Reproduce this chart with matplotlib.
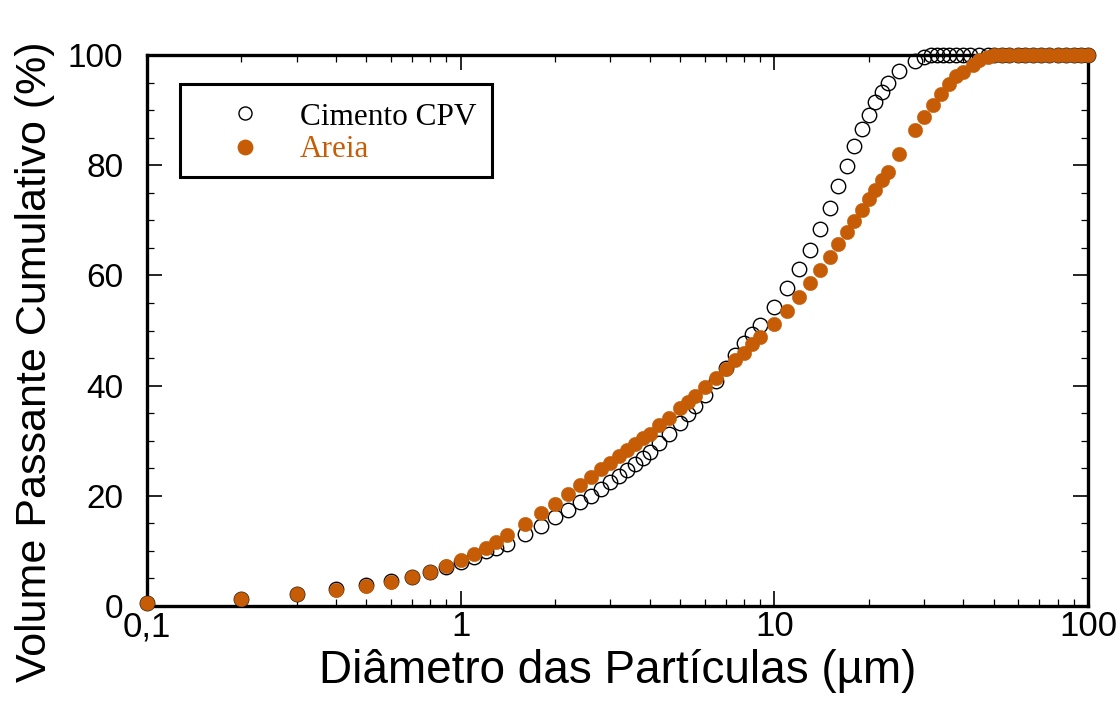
import matplotlib
matplotlib.use("Agg")
import matplotlib.pyplot as plt
from matplotlib.ticker import FixedLocator, LogLocator, NullFormatter, MultipleLocator
from matplotlib.patches import Rectangle

# particle sizes (um) shared by both curves up to 30 um
diam_common = [0.1, 0.2, 0.3, 0.4, 0.5, 0.6, 0.7, 0.8, 0.9, 1.0,
               1.1, 1.2, 1.3, 1.4, 1.6, 1.8, 2.0, 2.2, 2.4, 2.6, 2.8,
               3.0, 3.2, 3.4, 3.6, 3.8, 4.0, 4.3, 4.6, 5.0, 5.3, 5.6,
               6.0, 6.5, 7.0, 7.5, 8.0, 8.5, 9.0, 10, 11, 12, 13, 14,
               15, 16, 17, 18, 19, 20, 21, 22, 23, 25, 28, 30]

cimento_tail_x = [31.5, 33, 34.5, 36, 38, 40, 42, 45, 48, 50, 53, 56, 60,
                  63, 67, 71, 75, 80, 85, 90, 95, 100]
areia_tail_x = [32, 34, 36, 38, 40, 43, 45, 48, 50, 53, 56, 60, 63, 67,
                71, 75, 80, 85, 90, 95, 100]

cimento_y = [0.5, 1.3, 2.2, 3.0, 3.9, 4.5, 5.3, 6.2, 7.0, 7.9,
             8.9, 9.9, 10.6, 11.3, 13.0, 14.6, 16.1, 17.5, 18.9, 20.0, 21.3,
             22.5, 23.6, 24.7, 25.8, 26.8, 27.9, 29.5, 31.2, 33.3, 34.9, 36.3,
             38.3, 40.9, 43.2, 45.6, 47.7, 49.3, 51.0, 54.3, 57.8, 61.2, 64.6, 68.4,
             72.2, 76.2, 79.9, 83.4, 86.5, 89.1, 91.4, 93.2, 95.0, 97.1, 99.0, 99.6]
cimento_tail_y = [100] * 22

areia_y = [0.5, 1.3, 2.2, 2.9, 3.7, 4.3, 5.2, 6.2, 7.3, 8.4,
           9.5, 10.5, 11.7, 12.8, 14.8, 16.8, 18.6, 20.3, 22.0, 23.4, 24.8,
           26.0, 27.2, 28.3, 29.4, 30.4, 31.3, 32.8, 34.2, 35.9, 37.1, 38.1,
           39.7, 41.4, 43.1, 44.6, 46.0, 47.5, 48.8, 51.2, 53.5, 56.0, 58.7, 61.0,
           63.3, 65.7, 67.8, 69.9, 71.9, 73.8, 75.5, 77.3, 78.8, 82.0, 86.3, 88.8]
areia_tail_y = [90.9, 93.0, 94.7, 96.1, 97.0, 98.2, 99.1, 99.7, 100, 100, 100,
                100, 100, 100, 100, 100, 100, 100, 100, 100, 100]

x_ticks = [0.1, 1, 10, 100]
x_ticklabels = ["0,1", "1", "10", "100"]

ORANGE = "#C65D06"

fig = plt.figure(figsize=(11.2, 7.03), dpi=100)
ax = fig.add_axes([147 / 1120, 1 - 606 / 703, 941 / 1120, 551 / 703])

ax.plot(diam_common + cimento_tail_x, cimento_y + cimento_tail_y,
        linestyle="none", marker="o", markersize=10.4, markerfacecolor="none",
        markeredgecolor="black", markeredgewidth=1.0, clip_on=False, zorder=3)
ax.plot(diam_common + areia_tail_x, areia_y + areia_tail_y,
        linestyle="none", marker="o", markersize=10.4, markerfacecolor=ORANGE,
        markeredgecolor=ORANGE, markeredgewidth=0.3, clip_on=False, zorder=4)

ax.set_xscale("log")
ax.set_xlim(0.1, 100)
ax.set_ylim(0, 100)

ax.xaxis.set_major_locator(FixedLocator(x_ticks))
ax.set_xticklabels(x_ticklabels)
ax.xaxis.set_minor_locator(LogLocator(base=10, subs=range(2, 10)))
ax.xaxis.set_minor_formatter(NullFormatter())
ax.yaxis.set_major_locator(MultipleLocator(20))
ax.yaxis.set_minor_locator(MultipleLocator(5))

for s in ax.spines.values():
    s.set_linewidth(2.4)

ax.tick_params(which="both", direction="in", top=True, right=True)
ax.tick_params(which="major", length=10.5, width=1.2)
ax.tick_params(which="minor", length=5, width=0.9)
ax.tick_params(axis="y", which="major", labelsize=24, pad=17)
ax.tick_params(axis="x", which="major", labelsize=25, pad=3)
for lab in ax.get_xticklabels() + ax.get_yticklabels():
    lab.set_family("Liberation Sans")

ax.set_xlabel("Diâmetro das Partículas (µm)", fontsize=33,
              family="Liberation Sans", labelpad=4)
fig.text(35 / 1120, 1 - 362 / 703, "Volume Passante Cumulativo (%)",
         rotation=90, ha="center", va="center", fontsize=31,
         family="Liberation Sans")

# legend box drawn by hand to match the original layout
ax.add_patch(Rectangle((0.0351, 0.7786), 0.3315, 0.1684, transform=ax.transAxes,
                       facecolor="white", edgecolor="black", linewidth=2.2,
                       zorder=5))
ax.plot([0.1041], [0.894], transform=ax.transAxes, marker="o", markersize=9.4,
        markerfacecolor="none", markeredgecolor="black", markeredgewidth=1.0,
        zorder=6)
ax.plot([0.1041], [0.8325], transform=ax.transAxes, marker="o", markersize=10.4,
        markerfacecolor=ORANGE, markeredgecolor=ORANGE, zorder=6)
ax.text(0.1626, 0.873, "Cimento CPV", transform=ax.transAxes, va="baseline",
        ha="left", fontsize=22.5, family="Liberation Serif", zorder=6)
ax.text(0.1626, 0.815, "Areia", transform=ax.transAxes, va="baseline",
        ha="left", fontsize=22.5, family="Liberation Serif", color=ORANGE,
        zorder=6)

fig.savefig("out.png", dpi=100)
